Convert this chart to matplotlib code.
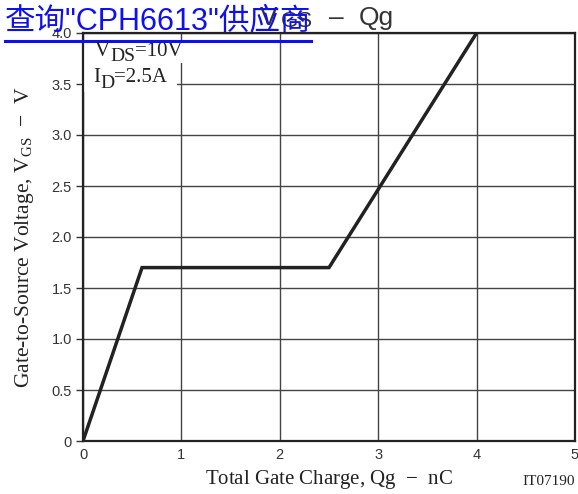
import matplotlib.pyplot as plt
from matplotlib.patches import Rectangle

plt.rcParams['mathtext.fontset'] = 'custom'
plt.rcParams['mathtext.rm'] = 'Liberation Serif'
plt.rcParams['mathtext.sf'] = 'Liberation Sans'

# gate charge curve
qg = [0, 0.6, 2.5, 4.0]
vgs = [0, 1.7, 1.7, 4.0]

x_ticks = [0, 1, 2, 3, 4, 5]
y_ticks = [0, 0.5, 1.0, 1.5, 2.0, 2.5, 3.0, 3.5, 4.0]
y_labels = ['0', '0.5', '1.0', '1.5', '2.0', '2.5', '3.0', '3.5', '4.0']

SERIF = 'Liberation Serif'
SANS = 'Liberation Sans'
INK = '#222222'

fig = plt.figure(figsize=(5.78, 4.94), dpi=100)
ax = fig.add_axes([83 / 578, 53 / 494, 492 / 578, 408 / 494])

ax.plot(qg, vgs, color=INK, linewidth=2.5, solid_joinstyle='miter', zorder=3)

ax.set_xlim(0, 5)
ax.set_ylim(0, 4)
ax.set_xticks(x_ticks)
ax.set_yticks(y_ticks)
ax.set_yticklabels(y_labels)
ax.grid(True, color='#444444', linewidth=1.0)
ax.tick_params(axis='x', length=0, pad=5, labelsize=10.5, colors='#333333')
ax.tick_params(axis='y', length=5, width=1, pad=3, labelsize=10.5, colors='#333333')
for lbl in ax.get_xticklabels() + ax.get_yticklabels():
    lbl.set_family(SANS)
for s in ax.spines.values():
    s.set_linewidth(1.6)
    s.set_color(INK)

ax.set_xlabel(r'Total Gate Charge, Qg  $-$  nC', family=SERIF,
              fontsize=15, color=INK, labelpad=4)
ax.set_ylabel(r'Gate-to-Source Voltage, V$_{\mathrm{GS}}$  $-$  V', family=SERIF,
              fontsize=15.5, color=INK, labelpad=11)


def chain(prev, s, y_px, size, family, dx=0, color=INK):
    # place a text piece right after the previous one, at a baseline in figure pixels
    return ax.annotate(s, xy=(1, y_px), xycoords=(prev, 'figure pixels'),
                       xytext=(dx, 0), textcoords='offset pixels',
                       fontsize=size, family=family, color=color,
                       ha='left', va='baseline', annotation_clip=False, zorder=4)


# conditions box (white patch hides the grid behind it)
ax.add_patch(Rectangle((83 / 578, 1 - 63 / 494), 100 / 578, 23 / 494, transform=fig.transFigure,
                       facecolor='white', edgecolor='none', zorder=2))
ax.add_patch(Rectangle((83 / 578, 1 - 92 / 494), 94 / 578, 30 / 494, transform=fig.transFigure,
                       facecolor='white', edgecolor='none', zorder=2))

v = fig.text(95 / 578, 1 - 56 / 494, 'V', family=SERIF, fontsize=15, color=INK,
             ha='left', va='baseline', zorder=4)
ds = chain(v, 'DS', 494 - 61, 14, SERIF)
chain(ds, '=10V', 494 - 56, 15, SERIF)

i = fig.text(93 / 578, 1 - 82 / 494, 'I', family=SERIF, fontsize=15, color=INK,
             ha='left', va='baseline', zorder=4)
d = chain(i, 'D', 494 - 88, 14, SERIF)
chain(d, '=2.5A', 494 - 82, 15, SERIF)

fig.text(575 / 578, 9 / 494, 'IT07190', family=SERIF, fontsize=11,
         ha='right', va='baseline', color=INK)

# title
tv = fig.text(260 / 578, 1 - 25 / 494, 'V', family=SANS, fontsize=19,
              ha='left', va='baseline', color='#333333')
tgs = chain(tv, 'GS', 494 - 27, 16, SANS, dx=3, color='#333333')
tdash = chain(tgs, '–', 494 - 25, 19, SANS, dx=16, color='#333333')
chain(tdash, 'Qg', 494 - 25, 19, SANS, dx=15, color='#333333')

# overlay link text
fig.text(5 / 578, 1 - 21 / 494, '查询"CPH6613"供应商', family=[SANS, 'Noto Sans CJK SC'],
         fontsize=22, ha='left', va='center', color='#1010ee')
fig.add_artist(plt.Line2D([5 / 578, 311 / 578], [1 - 41 / 494, 1 - 41 / 494], color='#1010ee',
                          linewidth=2.2, transform=fig.transFigure))

fig.savefig('out.png', dpi=100)
